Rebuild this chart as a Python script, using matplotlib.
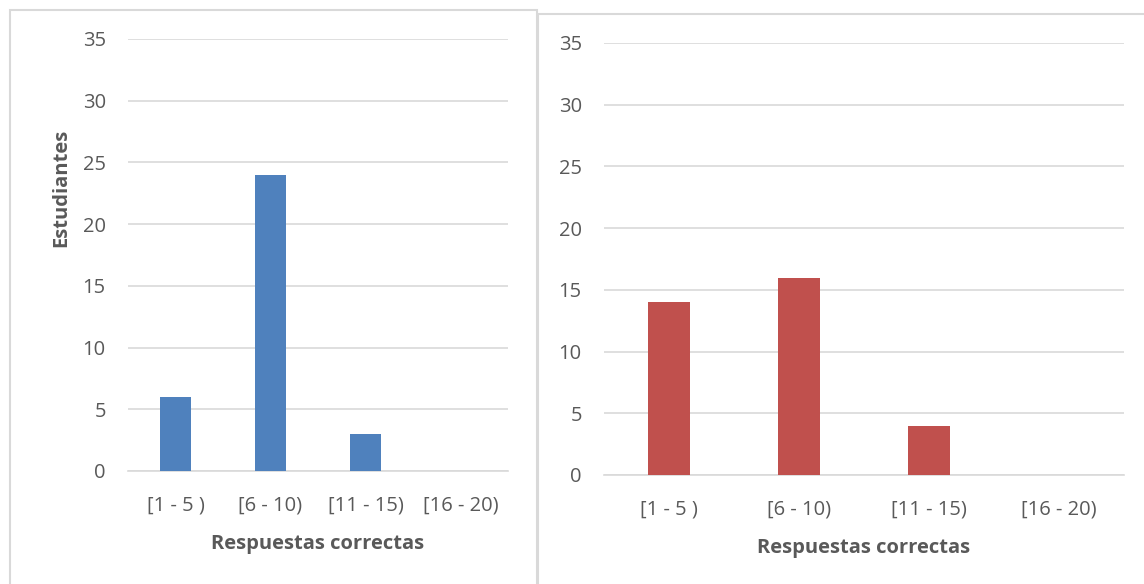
import matplotlib.pyplot as plt
from matplotlib.patches import Rectangle

categories = ["[1 - 5 )", "[6 - 10)", "[11 - 15)", "[16 - 20)"]
left_values = [6, 24, 3, 0]
right_values = [14, 16, 4, 0]
y_ticks = [0, 5, 10, 15, 20, 25, 30, 35]

plt.rcParams['font.family'] = ['Open Sans', 'DejaVu Sans']

W, H = 1144, 584
fig = plt.figure(figsize=(W / 100, H / 100), dpi=100)
fig.patch.set_facecolor('white')


def px(x0, y0, x1, y1):
    return [x0 / W, 1 - y1 / H, (x1 - x0) / W, (y1 - y0) / H]


# panel frames
for (x0, y0, x1, y1) in [(10, 10, 537, 600), (538, 14, 1150, 600)]:
    fig.patches.append(Rectangle((x0 / W, 1 - y1 / H), (x1 - x0) / W, (y1 - y0) / H,
                                 transform=fig.transFigure, fill=False,
                                 edgecolor='#D9D9D9', linewidth=1.5))

text_color = '#595959'
fs = 14.5


def draw(ax, values, color):
    xs = range(len(categories))
    ax.bar(xs, values, width=0.33, color=color, zorder=3)
    ax.set_xlim(-0.5, len(categories) - 0.5)
    ax.set_ylim(0, 35)
    ax.set_yticks(y_ticks)
    ax.set_xticks(list(xs))
    ax.set_xticklabels(categories)
    ax.grid(axis='y', color='#D9D9D9', linewidth=1.2, zorder=0)
    for s in ['top', 'right', 'left']:
        ax.spines[s].set_visible(False)
    ax.spines['bottom'].set_color('#D9D9D9')
    ax.spines['bottom'].set_linewidth(1.2)
    ax.tick_params(axis='both', length=0, labelsize=fs, colors=text_color)
    ax.tick_params(axis='y', pad=16)
    ax.tick_params(axis='x', pad=18)
    ax.set_facecolor('none')
    ax.set_xlabel("Respuestas correctas", fontsize=fs, fontweight='bold',
                  color=text_color, labelpad=13)


ax1 = fig.add_axes(px(128, 39, 508, 471))
draw(ax1, left_values, '#4F81BD')
fig.text(61 / W, 1 - 188 / H, "Estudiantes", rotation=90, fontsize=fs,
         fontweight='bold', color=text_color, ha='center', va='center')

ax2 = fig.add_axes(px(604, 43, 1124, 475))
draw(ax2, right_values, '#C0504D')

fig.savefig("out.png", dpi=100, facecolor='white')
